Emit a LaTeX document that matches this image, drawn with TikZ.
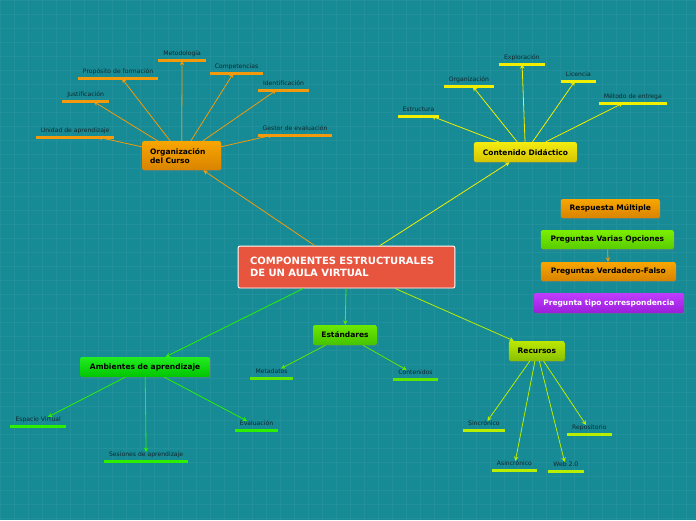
\documentclass[tikz,border=0pt]{standalone}
\usepackage{fontspec}
\setmainfont{DejaVu Sans}
\usetikzlibrary{arrows.meta,shadows}
\definecolor{cBack}{HTML}{168B95}
\definecolor{cRed}{HTML}{E8553F}
\definecolor{cOrange}{HTML}{F29A0C}
\definecolor{cOrangeTop}{HTML}{F7A600}
\definecolor{cOrangeBot}{HTML}{D98300}
\definecolor{cYellow}{HTML}{F2EE00}
\definecolor{cYellowTop}{HTML}{F4EC10}
\definecolor{cYellowBot}{HTML}{D4C400}
\definecolor{cStd}{HTML}{5FE600}
\definecolor{cStdTop}{HTML}{6CE800}
\definecolor{cStdBot}{HTML}{44C400}
\definecolor{cAmb}{HTML}{2CF000}
\definecolor{cAmbTop}{HTML}{22EC22}
\definecolor{cAmbBot}{HTML}{00C400}
\definecolor{cRec}{HTML}{B8EE00}
\definecolor{cRecTop}{HTML}{BCE800}
\definecolor{cRecBot}{HTML}{88C000}
\definecolor{cLime}{HTML}{7CEE00}
\definecolor{cLimeBot}{HTML}{58CC00}
\definecolor{cPurple}{HTML}{C03CFF}
\definecolor{cPurpleBot}{HTML}{9A1ED8}
\definecolor{cLeafText}{HTML}{10262C}
\tikzset{
  hub/.style={rounded corners=2pt, font=\bfseries\fontsize{7.5}{9}\selectfont,
              inner sep=0pt, text=black,
              drop shadow={opacity=0.35, shadow xshift=0.8pt, shadow yshift=-1.2pt}},
  hubOrg/.style={hub, top color=cOrangeTop, bottom color=cOrangeBot},
  hubCont/.style={hub, top color=cYellowTop, bottom color=cYellowBot},
  hubStd/.style={hub, top color=cStdTop, bottom color=cStdBot},
  hubAmb/.style={hub, top color=cAmbTop, bottom color=cAmbBot},
  hubRec/.style={hub, top color=cRecTop, bottom color=cRecBot},
  hubLime/.style={hub, top color=cLime, bottom color=cLimeBot},
  hubPurple/.style={hub, top color=cPurple, bottom color=cPurpleBot, text=white},
  leaf/.style={font=\fontsize{6.1}{7}\selectfont, text=cLeafText, inner sep=0pt,
               text height=4.8pt, text depth=4.8pt, anchor=south},
  bar/.style={line width=3pt},
  flow/.style={-{Stealth[length=4.5pt, width=4.5pt]}, line width=0.8pt},
}

\begin{document}
\begin{tikzpicture}[x=1pt, y=-1pt]

% ========== BACKGROUND ==========
\fill[cBack] (0,0) rectangle (696,520);
\draw[white, opacity=0.05, step=14pt] (0,0) grid (696,520);
\useasboundingbox (0,0) rectangle (696,520);

% ========== CENTRAL TOPIC ==========
\node[hub, fill=cRed, draw=white, line width=0.9pt, text=white,
      font=\bfseries\fontsize{10}{12.5}\selectfont, align=left,
      minimum width=217pt, minimum height=42pt, text width=193pt]
  (cmp) at (346.5,267) {COMPONENTES ESTRUCTURALES\\DE UN AULA VIRTUAL};

% ========== MAIN BRANCHES ==========
\node[hubOrg, align=left, minimum width=79pt, minimum height=29pt, text width=63pt]
  (org) at (181.5,155.5) {Organización\\del Curso};
\node[hubCont, minimum width=103pt, minimum height=20pt] (cont) at (525.5,152) {Contenido Didáctico};
\node[hubStd, minimum width=64pt, minimum height=20pt] (std) at (345,335) {Estándares};
\node[hubAmb, minimum width=130pt, minimum height=20pt] (amb) at (145,367) {Ambientes de aprendizaje};
\node[hubRec, minimum width=56pt, minimum height=20pt] (rec) at (537,351) {Recursos};

\draw[flow, cOrange] (cmp) -- (org);
\draw[flow, cYellow] (cmp) -- (cont);
\draw[flow, cStd] (cmp) -- (std);
\draw[flow, cAmb] (cmp) -- (amb);
\draw[flow, cRec] (cmp) -- (rec);

% ========== QUESTION TYPES ==========
\node[hubOrg, minimum width=99pt, minimum height=19pt] (resp) at (610.5,208.5) {Respuesta Múltiple};
\node[hubLime, minimum width=133pt, minimum height=19pt] (varias) at (607.5,239.5) {Preguntas Varias Opciones};
\node[hubOrg, minimum width=135pt, minimum height=19pt] (verdad) at (608.5,271.5) {Preguntas Verdadero-Falso};
\node[hubPurple, minimum width=150pt, minimum height=20pt] (corr) at (609,303) {Pregunta tipo correspondencia};
\draw[flow, cOrange] (varias) -- (verdad);

% ========== LEAVES ==========
\foreach \x/\y/\w/\txt [count=\i] in {75/137/78/Unidad de aprendizaje,
                                      85.5/101.5/47/Justificación,
                                      118/78.5/80/Propósito de formación,
                                      182/60.5/48/Metodología,
                                      236.5/73/53/Competencias,
                                      283.5/90/51/Identificación,
                                      295/135/74/Gestor de evaluación} {
  \node[leaf, minimum width=\w pt] (oLf\i) at (\x,\y) {\txt};
  \draw[bar, cOrange] (oLf\i.south west) -- (oLf\i.south east);
  \draw[flow, cOrange] (org) -- (oLf\i);
}

\foreach \x/\y/\w/\txt [count=\i] in {418.5/116/41/Estructura,
                                      469/86.5/50/Organización,
                                      522/64/46/Exploración,
                                      578.5/81/35/Licencia,
                                      633/103/68/Método de entrega} {
  \node[leaf, minimum width=\w pt] (cLf\i) at (\x,\y) {\txt};
  \draw[bar, cYellow] (cLf\i.south west) -- (cLf\i.south east);
  \draw[flow, cYellow] (cont) -- (cLf\i);
}

\foreach \x/\y/\w/\txt [count=\i] in {271.5/378.5/43/Metadatos,
                                      415.5/380/45/Contenidos} {
  \node[leaf, minimum width=\w pt] (sLf\i) at (\x,\y) {\txt};
  \draw[bar, cStd] (sLf\i.south west) -- (sLf\i.south east);
  \draw[flow, cStd] (std) -- (sLf\i);
}

\foreach \x/\y/\w/\txt [count=\i] in {38/427/56/Espacio Virtual,
                                      146/462/84/Sesiones de aprendizaje,
                                      256.5/431/43/Evaluación} {
  \node[leaf, minimum width=\w pt] (aLf\i) at (\x,\y) {\txt};
  \draw[bar, cAmb] (aLf\i.south west) -- (aLf\i.south east);
  \draw[flow, cAmb] (amb) -- (aLf\i);
}

\foreach \x/\y/\w/\txt [count=\i] in {484/431/42/Sincrónico,
                                      514.5/471/45/Asincrónico,
                                      566/472/36/Web 2.0,
                                      589.5/435/45/Repositorio} {
  \node[leaf, minimum width=\w pt] (rLf\i) at (\x,\y) {\txt};
  \draw[bar, cRec] (rLf\i.south west) -- (rLf\i.south east);
  \draw[flow, cRec] (rec) -- (rLf\i);
}

\end{tikzpicture}
\end{document}
